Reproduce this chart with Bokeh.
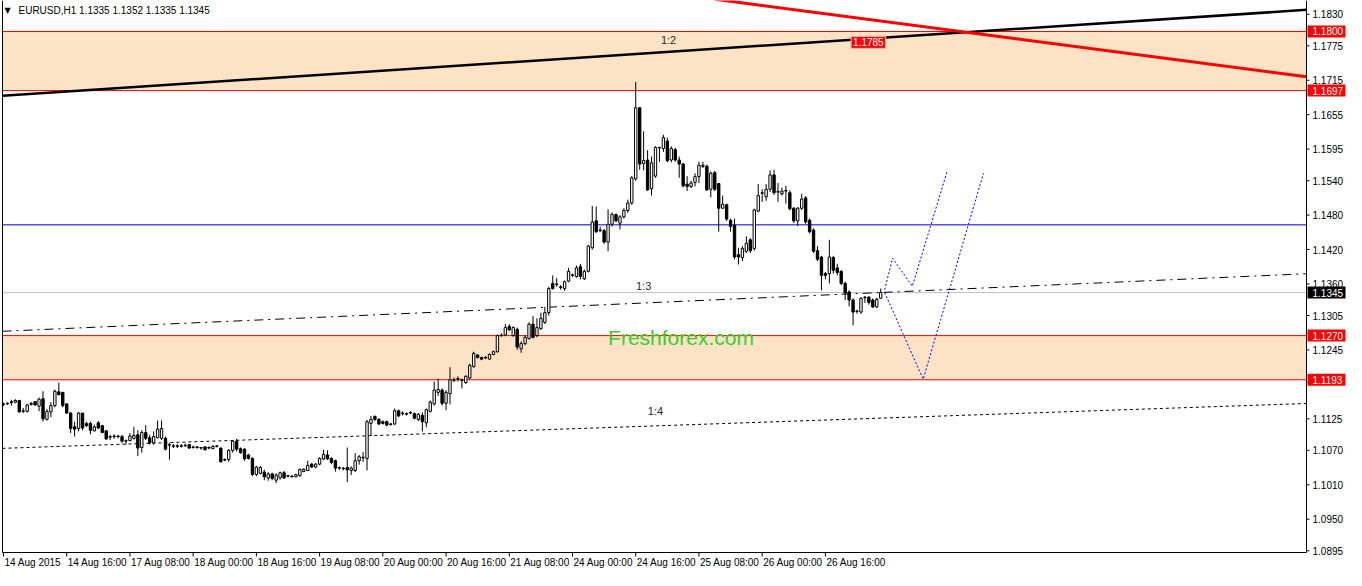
from bokeh.plotting import figure
from bokeh.models import BoxAnnotation, Label, ColumnDataSource, Range1d
from bokeh.core.properties import value
from bokeh.embed import file_html
from bokeh.resources import INLINE

# ---------------- data (EURUSD H1, bars from 14 Aug 2015 00:00) ----------------
opens = [
1.1150,1.1151,1.1153,1.1154,1.1157,1.1138,1.1138,1.1150,1.1155,1.1147,
1.1160,1.1124,1.1137,1.1148,1.1172,1.1171,1.1151,1.1135,1.1111,1.1108,
1.1135,1.1117,1.1117,1.1104,1.1118,1.1113,1.1104,1.1093,1.1094,1.1095,
1.1094,1.1086,1.1087,1.1091,1.1097,1.1075,1.1101,1.1092,1.1083,1.1092,
1.1091,1.1091,1.1079,1.1077,1.1078,1.1077,1.1078,1.1080,1.1075,1.1076,
1.1075,1.1076,1.1074,1.1073,1.1077,1.1074,1.1053,1.1054,1.1070,1.1086,
1.1073,1.1072,1.1062,1.1056,1.1028,1.1030,1.1032,1.1022,1.1029,1.1018,
1.1022,1.1031,1.1025,1.1025,1.1024,1.1026,1.1033,1.1035,1.1046,1.1041,
1.1046,1.1055,1.1062,1.1056,1.1052,1.1039,1.1039,1.1040,1.1035,1.1035,
1.1052,1.1057,1.1056,1.1117,1.1129,1.1124,1.1120,1.1120,1.1115,1.1116,
1.1139,1.1134,1.1134,1.1135,1.1134,1.1124,1.1131,1.1118,1.1138,1.1151,
1.1171,1.1175,1.1152,1.1169,1.1192,1.1194,1.1193,1.1188,1.1196,1.1216,
1.1236,1.1232,1.1231,1.1229,1.1237,1.1242,1.1270,1.1271,1.1286,1.1270,
1.1281,1.1247,1.1256,1.1265,1.1290,1.1270,1.1282,1.1293,1.1310,1.1361,
1.1359,1.1355,1.1352,1.1365,1.1375,1.1373,1.1390,1.1369,1.1382,1.1423,
1.1470,1.1453,1.1453,1.1433,1.1464,1.1481,1.1466,1.1477,1.1488,1.1501,
1.1543,1.1667,1.1570,1.1576,1.1526,1.1548,1.1597,1.1596,1.1609,1.1576,
1.1594,1.1576,1.1569,1.1534,1.1530,1.1537,1.1547,1.1565,1.1565,1.1525,
1.1554,1.1535,1.1492,1.1498,1.1471,1.1462,1.1411,1.1406,1.1417,1.1437,
1.1422,1.1487,1.1518,1.1512,1.1525,1.1550,1.1520,1.1517,1.1522,1.1519,
1.1492,1.1470,1.1492,1.1510,1.1471,1.1454,1.1418,1.1407,1.1378,1.1378,
1.1406,1.1388,1.1382,1.1361,1.1346,1.1332,1.1312,1.1311,1.1336,1.1337,
1.1332,1.1320,1.1335]

highs = [
1.1153,1.1154,1.1158,1.1159,1.1158,1.1144,1.1151,1.1154,1.1156,1.1162,
1.1173,1.1142,1.1154,1.1176,1.1188,1.1172,1.1152,1.1137,1.1120,1.1137,
1.1135,1.1120,1.1120,1.1115,1.1121,1.1114,1.1105,1.1097,1.1098,1.1097,
1.1097,1.1089,1.1100,1.1111,1.1105,1.1105,1.1114,1.1097,1.1103,1.1122,
1.1122,1.1094,1.1083,1.1081,1.1081,1.1081,1.1082,1.1081,1.1078,1.1077,
1.1076,1.1077,1.1077,1.1079,1.1079,1.1075,1.1056,1.1072,1.1088,1.1090,
1.1075,1.1074,1.1064,1.1058,1.1043,1.1043,1.1036,1.1032,1.1031,1.1030,
1.1033,1.1034,1.1027,1.1027,1.1029,1.1038,1.1039,1.1052,1.1048,1.1048,
1.1058,1.1071,1.1070,1.1058,1.1054,1.1042,1.1041,1.1075,1.1042,1.1065,
1.1062,1.1067,1.1123,1.1130,1.1131,1.1126,1.1122,1.1122,1.1118,1.1143,
1.1141,1.1138,1.1136,1.1138,1.1136,1.1135,1.1136,1.1143,1.1157,1.1190,
1.1195,1.1178,1.1175,1.1215,1.1197,1.1199,1.1195,1.1201,1.1221,1.1242,
1.1238,1.1233,1.1234,1.1239,1.1244,1.1272,1.1274,1.1290,1.1290,1.1286,
1.1284,1.1260,1.1270,1.1293,1.1304,1.1300,1.1310,1.1320,1.1355,1.1375,
1.1370,1.1358,1.1366,1.1388,1.1378,1.1392,1.1395,1.1385,1.1428,1.1496,
1.1495,1.1460,1.1456,1.1490,1.1485,1.1483,1.1480,1.1492,1.1507,1.1548,
1.1712,1.1668,1.1626,1.1593,1.1582,1.1600,1.1599,1.1620,1.1615,1.1600,
1.1597,1.1582,1.1571,1.1548,1.1540,1.1553,1.1573,1.1573,1.1568,1.1556,
1.1557,1.1536,1.1514,1.1500,1.1474,1.1474,1.1423,1.1426,1.1443,1.1440,
1.1491,1.1534,1.1525,1.1534,1.1558,1.1559,1.1536,1.1528,1.1531,1.1523,
1.1494,1.1494,1.1517,1.1513,1.1474,1.1457,1.1426,1.1409,1.1381,1.1437,
1.1409,1.1395,1.1384,1.1364,1.1349,1.1335,1.1315,1.1337,1.1339,1.1339,
1.1335,1.1336,1.1352]

lows = [
1.1147,1.1149,1.1148,1.1152,1.1136,1.1135,1.1136,1.1148,1.1148,1.1138,
1.1120,1.1122,1.1128,1.1145,1.1166,1.1145,1.1134,1.1100,1.1094,1.1103,
1.1105,1.1111,1.1098,1.1103,1.1107,1.1100,1.1088,1.1088,1.1090,1.1091,
1.1083,1.1080,1.1086,1.1089,1.1060,1.1066,1.1088,1.1080,1.1080,1.1091,
1.1088,1.1070,1.1054,1.1074,1.1074,1.1075,1.1076,1.1073,1.1073,1.1073,
1.1071,1.1070,1.1072,1.1072,1.1075,1.1049,1.1051,1.1050,1.1066,1.1068,
1.1064,1.1052,1.1054,1.1025,1.1025,1.1028,1.1018,1.1017,1.1018,1.1013,
1.1019,1.1020,1.1023,1.1023,1.1023,1.1024,1.1032,1.1034,1.1039,1.1039,
1.1044,1.1053,1.1053,1.1046,1.1033,1.1036,1.1035,1.1015,1.1027,1.1032,
1.1045,1.1050,1.1035,1.1095,1.1121,1.1114,1.1115,1.1112,1.1113,1.1114,
1.1128,1.1131,1.1131,1.1133,1.1124,1.1121,1.1103,1.1110,1.1136,1.1148,
1.1165,1.1148,1.1140,1.1150,1.1189,1.1190,1.1178,1.1186,1.1194,1.1214,
1.1230,1.1227,1.1229,1.1228,1.1236,1.1240,1.1268,1.1269,1.1278,1.1268,
1.1245,1.1240,1.1253,1.1263,1.1265,1.1267,1.1280,1.1290,1.1305,1.1350,
1.1355,1.1350,1.1348,1.1363,1.1372,1.1371,1.1368,1.1367,1.1380,1.1420,
1.1449,1.1450,1.1430,1.1417,1.1460,1.1468,1.1455,1.1474,1.1484,1.1498,
1.1540,1.1559,1.1558,1.1522,1.1514,1.1545,1.1573,1.1590,1.1572,1.1572,
1.1573,1.1545,1.1528,1.1522,1.1527,1.1530,1.1536,1.1562,1.1522,1.1511,
1.1522,1.1451,1.1491,1.1470,1.1451,1.1403,1.1394,1.1400,1.1414,1.1414,
1.1418,1.1485,1.1503,1.1505,1.1520,1.1515,1.1503,1.1514,1.1500,1.1488,
1.1466,1.1461,1.1489,1.1465,1.1448,1.1414,1.1400,1.1349,1.1368,1.1361,
1.1378,1.1375,1.1358,1.1332,1.1321,1.1288,1.1308,1.1308,1.1327,1.1324,
1.1318,1.1318,1.1335]

closes = [
1.1151,1.1152,1.1155,1.1157,1.1137,1.1139,1.1149,1.1152,1.1149,1.1159,
1.1125,1.1138,1.1148,1.1173,1.1167,1.1148,1.1135,1.1108,1.1107,1.1135,
1.1109,1.1113,1.1105,1.1111,1.1109,1.1101,1.1090,1.1094,1.1095,1.1094,
1.1086,1.1087,1.1095,1.1096,1.1074,1.1101,1.1091,1.1083,1.1094,1.1107,
1.1108,1.1072,1.1080,1.1078,1.1077,1.1078,1.1079,1.1074,1.1076,1.1075,
1.1074,1.1071,1.1075,1.1077,1.1078,1.1050,1.1054,1.1070,1.1086,1.1072,
1.1066,1.1055,1.1056,1.1028,1.1041,1.1040,1.1024,1.1029,1.1021,1.1027,
1.1031,1.1022,1.1026,1.1024,1.1028,1.1037,1.1037,1.1044,1.1041,1.1046,
1.1056,1.1063,1.1055,1.1049,1.1039,1.1040,1.1038,1.1036,1.1039,1.1052,
1.1059,1.1058,1.1120,1.1124,1.1124,1.1116,1.1117,1.1114,1.1116,1.1139,
1.1130,1.1135,1.1133,1.1136,1.1126,1.1133,1.1120,1.1141,1.1154,1.1175,
1.1176,1.1152,1.1171,1.1193,1.1193,1.1195,1.1192,1.1199,1.1218,1.1239,
1.1232,1.1229,1.1232,1.1237,1.1242,1.1270,1.1271,1.1284,1.1280,1.1284,
1.1250,1.1256,1.1267,1.1290,1.1267,1.1284,1.1300,1.1310,1.1352,1.1352,
1.1360,1.1354,1.1364,1.1382,1.1376,1.1388,1.1373,1.1382,1.1426,1.1468,
1.1451,1.1454,1.1433,1.1464,1.1481,1.1470,1.1477,1.1488,1.1501,1.1545,
1.1667,1.1569,1.1575,1.1524,1.1571,1.1598,1.1598,1.1615,1.1575,1.1596,
1.1576,1.1569,1.1531,1.1530,1.1536,1.1547,1.1567,1.1567,1.1524,1.1553,
1.1525,1.1492,1.1499,1.1473,1.1460,1.1407,1.1407,1.1422,1.1431,1.1418,
1.1489,1.1514,1.1519,1.1525,1.1550,1.1519,1.1521,1.1522,1.1523,1.1491,
1.1470,1.1492,1.1508,1.1468,1.1451,1.1417,1.1403,1.1375,1.1375,1.1407,
1.1384,1.1380,1.1361,1.1344,1.1332,1.1311,1.1313,1.1335,1.1337,1.1328,
1.1320,1.1333,1.1345]

time_tick_idx = [0, 16, 32, 48, 64, 80, 96, 112, 128, 144, 160, 176, 192, 208]
time_tick_labels = ["14 Aug 2015", "14 Aug 16:00", "17 Aug 08:00", "18 Aug 00:00",
                    "18 Aug 16:00", "19 Aug 08:00", "20 Aug 00:00", "20 Aug 16:00",
                    "21 Aug 08:00", "24 Aug 00:00", "24 Aug 16:00", "25 Aug 08:00",
                    "26 Aug 00:00", "26 Aug 16:00"]
price_ticks = [1.1830, 1.1775, 1.1715, 1.1655, 1.1595, 1.1540, 1.1480, 1.1420, 1.1360,
               1.1305, 1.1245, 1.1125, 1.1070, 1.1010, 1.0950, 1.0895]

zone_upper = [1.1697, 1.1800]
zone_lower = [1.1193, 1.1270]
level_blue = 1.1463
last_price = 1.1345
marked_levels = [1.1800, 1.1697, 1.1270, 1.1193]

gann_x = [-0.25, 329.75]
gann_12_y = [1.1688, 1.18377]
gann_13_y = [1.12775, 1.13778]
gann_14_y = [1.10735, 1.11517]
red_trend_x = [180, 329.75]
red_trend_y = [1.18562, 1.1721]
proj1_x = [223, 225, 230, 238.75]
proj1_y = [1.1350, 1.1405, 1.1356, 1.1555]
proj2_x = [223, 232.75, 248]
proj2_y = [1.1345, 1.1194, 1.1553]
trend_price_label = 1.1785

# ---------------- geometry ----------------
X0, X1 = -0.25, 329.75          # bar-index span of the chart area
Y0, Y1 = 1.0892, 1.1854          # price span of the chart area
W, H = 1346, 570
CHART_W, CHART_H = 1304, 552     # pixels of the chart area inside the figure
PXB = CHART_W / (X1 - X0)        # pixels per bar
DPP = (Y1 - Y0) / CHART_H        # price per pixel
XR0 = X0 - 2 / PXB
XR1 = XR0 + W / PXB
YR0 = Y1 - H * DPP
FONT = value("Liberation Sans")

p = figure(width=W, height=H, x_range=Range1d(XR0, XR1), y_range=Range1d(YR0, Y1),
           output_backend="svg", toolbar_location=None,
           x_axis_location=None, y_axis_location=None,
           min_border_left=0, min_border_right=0, min_border_top=0, min_border_bottom=0,
           background_fill_color="white", border_fill_color="white")
p.grid.visible = False
p.outline_line_color = None

# zones
for lo, hi in (zone_upper, zone_lower):
    p.add_layout(BoxAnnotation(left=X0, right=X1, bottom=lo, top=hi, fill_color="#FDE3C5",
                               fill_alpha=1.0, line_color=None, level="underlay"))
# horizontal levels
p.segment(x0=[X0] * 4, y0=marked_levels, x1=[X1] * 4, y1=marked_levels,
          line_color="#FF0000", line_width=1)
p.segment(x0=[X0], y0=[level_blue], x1=[X1], y1=[level_blue], line_color="#0000C0", line_width=1)
p.segment(x0=[X0], y0=[last_price], x1=[X1], y1=[last_price], line_color="#C0C0C0", line_width=1)

# gann / trend lines
p.line(gann_x, gann_12_y, line_color="black", line_width=2.5)
p.line(gann_x, gann_13_y, line_color="black", line_width=1, line_dash="9 5 2 5")
p.line(gann_x, gann_14_y, line_color="black", line_width=1, line_dash="3 3")
p.line(red_trend_x, red_trend_y, line_color="#FF0000", line_width=3)

# candles
idx = list(range(len(opens)))
src = ColumnDataSource(dict(
    x=idx, high=highs, low=lows,
    top=[max(o, c) for o, c in zip(opens, closes)],
    bottom=[min(o, c) for o, c in zip(opens, closes)],
    fill=["white" if c >= o else "black" for o, c in zip(opens, closes)]))
p.segment(x0="x", y0="low", x1="x", y1="high", source=src, line_color="black", line_width=1)
p.vbar(x="x", width=0.6, top="top", bottom="bottom", fill_color="fill",
       line_color="black", line_width=1, source=src)

# projections
p.line(proj1_x, proj1_y, line_color="#0000FF", line_width=1, line_dash="2 2")
p.line(proj2_x, proj2_y, line_color="#0000FF", line_width=1, line_dash="2 2")

# chart frame: left border, bottom line, price axis line
p.segment(x0=[X0, X0, X1], y0=[Y0, Y0, Y0], x1=[X0, X1, X1], y1=[Y1, Y0, Y1],
          line_color="black", line_width=1)

# price axis: ticks + labels
n = len(price_ticks)
p.segment(x0=[X1] * n, y0=price_ticks, x1=[X1 + 3 / PXB] * n, y1=price_ticks,
          line_color="black", line_width=1)
p.text(x=[X1 + 6 / PXB] * n, y=price_ticks, text=[f"{t:.4f}" for t in price_ticks],
       text_font=FONT, text_font_size="10px", text_color="black",
       text_align="left", text_baseline="middle")

# coloured price boxes on the axis
box_levels = marked_levels + [last_price]
box_colors = ["#FF0000"] * len(marked_levels) + ["#000000"]
p.quad(left=[X1 + 1 / PXB] * len(box_levels), right=[X1 + 39 / PXB] * len(box_levels),
       bottom=[v - 6 * DPP for v in box_levels], top=[v + 6 * DPP for v in box_levels],
       fill_color=box_colors, line_color=None)
p.text(x=[X1 + 6 / PXB] * len(box_levels), y=box_levels,
       text=[f"{v:.4f}" for v in box_levels], text_font=FONT, text_font_size="10px",
       text_color="white", text_align="left", text_baseline="middle")

# time axis: ticks + left-aligned labels
m = len(time_tick_idx)
p.segment(x0=time_tick_idx, y0=[Y0] * m, x1=time_tick_idx, y1=[Y0 - 4 * DPP] * m,
          line_color="black", line_width=1)
p.text(x=[i + 1 / PXB for i in time_tick_idx], y=[Y0 - 4 * DPP] * m, text=time_tick_labels,
       text_font=FONT, text_font_size="10px", text_color="black",
       text_align="left", text_baseline="top")

# texts in the chart
for txt, xx, yy in (("1:2", 168.3, 1.1786), ("1:3", 162.0, 1.1356), ("1:4", 165.0, 1.1138)):
    p.add_layout(Label(x=xx, y=yy, text=txt, text_font="Liberation Sans", text_font_size="11px",
                       text_color="#2a2a2a", text_align="center", text_baseline="middle"))
p.add_layout(Label(x=153, y=1.1267, text="Freshforex.com", text_font="Liberation Sans",
                   text_font_size="21px", text_color="#3CCB2E", text_align="left",
                   text_baseline="middle"))
p.add_layout(Label(x=214.5, y=1.1781, text=f"{trend_price_label:.4f}", text_font="Liberation Sans",
                   text_font_size="10px", text_color="white", text_align="left",
                   text_baseline="middle", background_fill_color="#FF0000",
                   border_line_color="#FFB0B0", padding=2))
p.add_layout(Label(x=X0 + 5 / PXB, y=Y1 - 10 * DPP, text="\u25BC", text_font="DejaVu Sans",
                   text_font_size="8px", text_color="black", text_align="center",
                   text_baseline="middle"))
p.add_layout(Label(x=X0 + 16 / PXB, y=Y1 - 10 * DPP,
                   text="EURUSD,H1  1.1335 1.1352 1.1335 1.1345", text_font="Liberation Sans",
                   text_font_size="10px", text_color="black", text_align="left",
                   text_baseline="middle"))

open("out.html", "w").write(file_html(p, INLINE))
